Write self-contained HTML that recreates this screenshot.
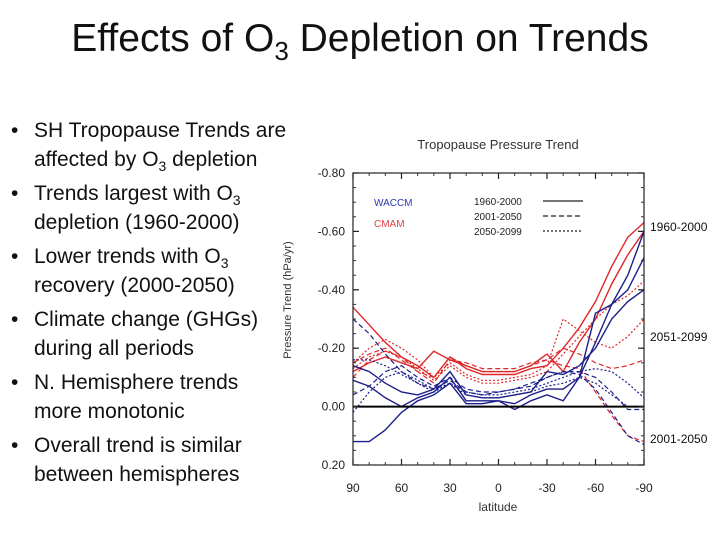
<!DOCTYPE html>
<html><head><meta charset="utf-8"><style>
body{margin:0;width:720px;height:540px;background:#fff;overflow:hidden;font-family:"Liberation Sans",sans-serif;position:relative}
#title{position:absolute;left:0;width:720px;top:17px;text-align:center;font-size:39px;color:#111}
#title sub{font-size:26px;vertical-align:-9px;line-height:0}
ul{position:absolute;left:0;top:116px;margin:0;padding:0;list-style:none;font-size:21px;line-height:29px;color:#111}
li{position:relative;padding-left:34px;width:255px;margin-bottom:5px}
li:before{content:"•";position:absolute;left:11px}
li sub{font-size:14px;line-height:0}
svg{position:absolute;left:0;top:0}
</style></head><body>
<div id="title">Effects of O<sub>3</sub> Depletion on Trends</div>
<ul>
<li>SH Tropopause Trends are affected by O<sub>3</sub> depletion</li>
<li>Trends largest with O<sub>3</sub> depletion (1960-2000)</li>
<li>Lower trends with O<sub>3</sub> recovery (2000-2050)</li>
<li>Climate change (GHGs) during all periods</li>
<li>N. Hemisphere trends more monotonic</li>
<li>Overall trend is similar between hemispheres</li>
</ul>
<svg id="chart" width="720" height="540"></svg>
<script>
const lats=[90,80,70,60,50,40,30,20,10,0,-10,-20,-30,-40,-50,-60,-70,-80,-90];
const redSolidA=[-0.34,-0.28,-0.22,-0.17,-0.14,-0.10,-0.17,-0.13,-0.11,-0.11,-0.11,-0.13,-0.14,-0.20,-0.27,-0.36,-0.48,-0.58,-0.63];
const redSolidB=[-0.12,-0.15,-0.17,-0.15,-0.13,-0.19,-0.16,-0.14,-0.12,-0.12,-0.12,-0.14,-0.18,-0.12,-0.22,-0.30,-0.42,-0.52,-0.60];
const redDashA=[-0.10,-0.16,-0.19,-0.17,-0.12,-0.08,-0.16,-0.15,-0.13,-0.13,-0.13,-0.15,-0.16,-0.14,-0.13,-0.05,0.03,0.10,0.12];
const redDashB=[-0.15,-0.18,-0.20,-0.16,-0.12,-0.10,-0.17,-0.14,-0.12,-0.12,-0.12,-0.14,-0.16,-0.20,-0.18,-0.15,-0.13,-0.14,-0.16];
const redDotA=[-0.15,-0.20,-0.23,-0.20,-0.16,-0.10,-0.15,-0.11,-0.09,-0.09,-0.10,-0.11,-0.14,-0.30,-0.26,-0.22,-0.20,-0.24,-0.30];
const redDotB=[-0.13,-0.17,-0.19,-0.17,-0.13,-0.09,-0.14,-0.10,-0.08,-0.08,-0.09,-0.10,-0.12,-0.18,-0.24,-0.30,-0.35,-0.38,-0.43];
const blueSolidA=[0.12,0.12,0.08,0.02,-0.02,-0.04,-0.08,-0.01,-0.01,-0.02,0.01,-0.02,-0.04,-0.02,-0.10,-0.32,-0.35,-0.45,-0.60];
const blueSolidB=[-0.09,-0.07,-0.03,0.00,-0.03,-0.05,-0.10,-0.02,-0.02,-0.02,-0.01,-0.04,-0.06,-0.06,-0.10,-0.22,-0.35,-0.40,-0.51];
const blueSolidC=[-0.14,-0.12,-0.08,-0.05,-0.04,-0.06,-0.12,-0.04,-0.03,-0.03,-0.04,-0.05,-0.12,-0.11,-0.14,-0.20,-0.30,-0.36,-0.40];
const blueDashA=[-0.30,-0.25,-0.18,-0.12,-0.08,-0.06,-0.09,-0.05,-0.04,-0.05,-0.06,-0.07,-0.10,-0.12,-0.11,-0.06,0.02,0.10,0.13];
const blueDashB=[-0.04,-0.07,-0.12,-0.14,-0.10,-0.07,-0.10,-0.06,-0.05,-0.05,-0.06,-0.08,-0.10,-0.12,-0.12,-0.10,-0.05,0.01,0.01];
const blueDotA=[0.02,-0.05,-0.10,-0.12,-0.09,-0.06,-0.08,-0.05,-0.04,-0.04,-0.05,-0.06,-0.08,-0.10,-0.12,-0.13,-0.12,-0.08,-0.03];
const blueDotB=[-0.16,-0.16,-0.14,-0.11,-0.08,-0.05,-0.08,-0.04,-0.03,-0.03,-0.04,-0.05,-0.07,-0.08,-0.10,-0.08,-0.04,0.00,0.00];
const yTicks=[-0.8,-0.6,-0.4,-0.2,0,0.2];
const yTickLabels=["-0.80","-0.60","-0.40","-0.20","0.00","0.20"];
const xTicks=[90,60,30,0,-30,-60,-90];
const xTickLabels=["90","60","30","0","-30","-60","-90"];

const L=353,R=644,T=173,B=465;
const xs=v=>L+(90-v)/180*(R-L);
const ys=v=>T+(v+0.8)/1.0*(B-T);
const svg=document.getElementById('chart');
const NS='http://www.w3.org/2000/svg';
function mk(tag,at,txt){const e=document.createElementNS(NS,tag);for(const k in at)e.setAttribute(k,at[k]);if(txt!==undefined)e.textContent=txt;svg.appendChild(e);return e;}
const series=[
[redSolidA,'#e0282a','',1.4,'cmam-1960-2000-a'],[redSolidB,'#e0282a','',1.4,'cmam-1960-2000-b'],
[redDashA,'#e0282a','5,3',1.2,'cmam-2001-2050-a'],[redDashB,'#e0282a','5,3',1.2,'cmam-2001-2050-b'],
[redDotA,'#e0282a','2,2',1.2,'cmam-2050-2099-a'],[redDotB,'#e0282a','2,2',1.2,'cmam-2050-2099-b'],
[blueSolidA,'#1c1f8a','',1.4,'waccm-1960-2000-a'],[blueSolidB,'#1c1f8a','',1.4,'waccm-1960-2000-b'],[blueSolidC,'#1c1f8a','',1.4,'waccm-1960-2000-c'],
[blueDashA,'#1c1f8a','5,3',1.2,'waccm-2001-2050-a'],[blueDashB,'#1c1f8a','5,3',1.2,'waccm-2001-2050-b'],
[blueDotA,'#1c1f8a','2,2',1.2,'waccm-2050-2099-a'],[blueDotB,'#1c1f8a','2,2',1.2,'waccm-2050-2099-b']];
series.forEach(s=>{
 const pts=s[0].map((v,i)=>xs(lats[i]).toFixed(1)+','+ys(v).toFixed(1)).join(' ');
 const p=mk('polyline',{points:pts,fill:'none',stroke:s[1],'stroke-width':s[3],'stroke-dasharray':s[2]});
 
 
});
const z=mk('line',{x1:L,x2:R,y1:ys(0),y2:ys(0),stroke:'#000','stroke-width':2});


const f=mk('rect',{x:L,y:T,width:R-L,height:B-T,fill:'none',stroke:'#222','stroke-width':1.2});


for(let v=-0.8;v<=0.2001;v+=0.05){const y=ys(v);mk('line',{x1:L,x2:L+3,y1:y,y2:y,stroke:'#333'});mk('line',{x1:R,x2:R-3,y1:y,y2:y,stroke:'#333'});}
for(let v=-90;v<=90;v+=10){const x=xs(v);mk('line',{x1:x,x2:x,y1:B,y2:B-3,stroke:'#333'});mk('line',{x1:x,x2:x,y1:T,y2:T+3,stroke:'#333'});}
yTicks.forEach((v,i)=>{const y=ys(v);mk('line',{x1:L,x2:L+6,y1:y,y2:y,stroke:'#222','stroke-width':1.2});mk('line',{x1:R,x2:R-6,y1:y,y2:y,stroke:'#222','stroke-width':1.2});
 const t=mk('text',{x:L-8,y:y+4,'text-anchor':'end','font-size':12,fill:'#222'},yTickLabels[i]);
 
 });
xTicks.forEach((v,i)=>{const x=xs(v);mk('line',{x1:x,x2:x,y1:B,y2:B-6,stroke:'#222','stroke-width':1.2});mk('line',{x1:x,x2:x,y1:T,y2:T+6,stroke:'#222','stroke-width':1.2});
 const t=mk('text',{x:x,y:492,'text-anchor':'middle','font-size':12,fill:'#222'},xTickLabels[i]);
 
 });
function label(txt,at,name){const t=mk('text',at,txt);return t;}
label('Tropopause Pressure Trend',{x:498,y:149,'text-anchor':'middle','font-size':13,fill:'#333'},'chart-title');
label('latitude',{x:498,y:511,'text-anchor':'middle','font-size':12,fill:'#333'},'x-axis-title');
label('Pressure Trend (hPa/yr)',{x:0,y:0,transform:'translate(291,300) rotate(-90)','text-anchor':'middle','font-size':11,fill:'#333'},'y-axis-title');
label('WACCM',{x:374,y:206,'font-size':10,fill:'#2a3bb5'},'legend-waccm');
label('CMAM',{x:374,y:227,'font-size':10,fill:'#e04040'},'legend-cmam');
[['1960-2000',''],['2001-2050','5,3'],['2050-2099','2,2']].forEach((e,i)=>{const y=201+i*15;
 label(e[0],{x:474,y:y+4,'font-size':10,fill:'#222'},'legend-period-'+(i+1));
 mk('line',{x1:543,x2:583,y1:y,y2:y,stroke:'#222','stroke-width':1.3,'stroke-dasharray':e[1]});});
label('1960-2000',{x:650,y:231,'font-size':12,fill:'#111'},'annotation-1960-2000');
label('2051-2099',{x:650,y:341,'font-size':12,fill:'#111'},'annotation-2051-2099');
label('2001-2050',{x:650,y:443,'font-size':12,fill:'#111'},'annotation-2001-2050');
</script>
</body></html>
